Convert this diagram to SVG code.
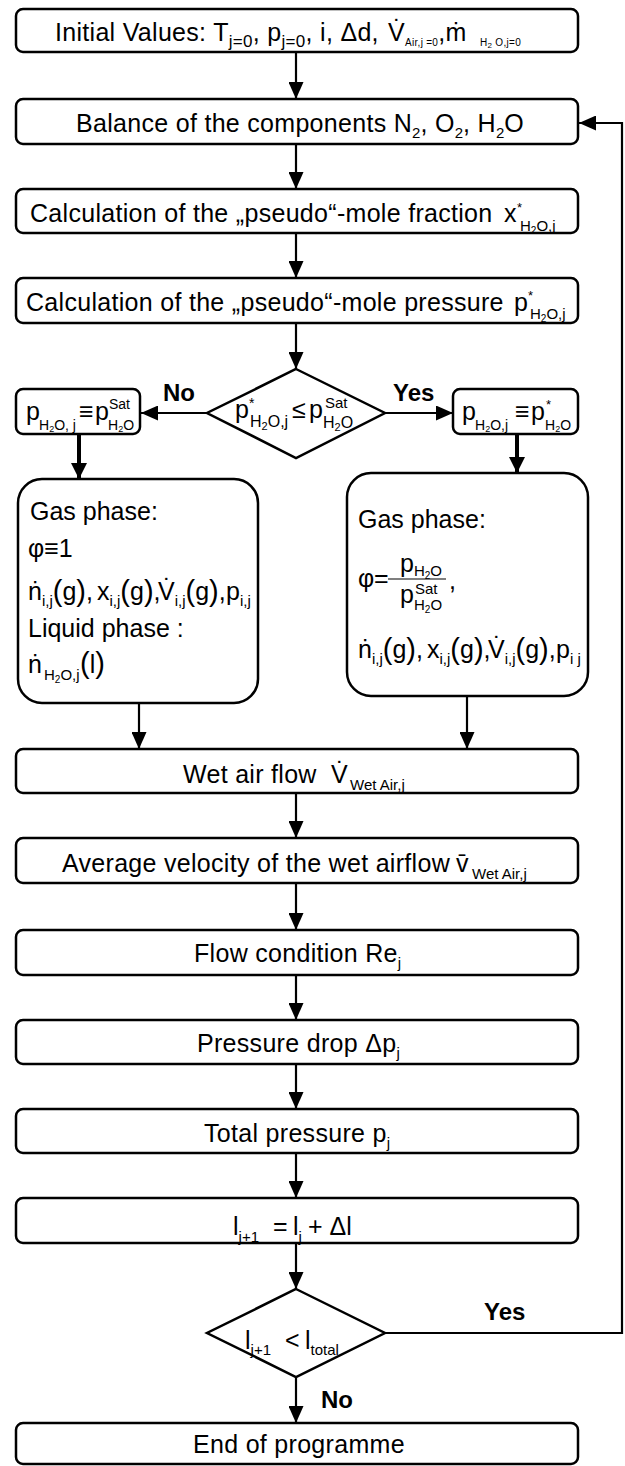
<svg xmlns="http://www.w3.org/2000/svg" width="625" height="1466" viewBox="0 0 625 1466">
<style>
.box{fill:#fff;stroke:#000;stroke-width:2.5}
.t{font-family:"Liberation Sans",Arial,sans-serif;font-size:25px;fill:#000}
.m{letter-spacing:0.3px}
.s{font-size:15px;letter-spacing:0}
.s2{font-size:10px;letter-spacing:0}
.pr{font-size:29px}
.lbl{font-family:"Liberation Sans",Arial,sans-serif;font-size:24px;font-weight:bold;fill:#000}
.c{fill:none;stroke:#000;stroke-width:2.2}
.ck{fill:none;stroke:#000;stroke-width:4}
</style>
<defs>
<marker id="ah" markerUnits="userSpaceOnUse" markerWidth="17" markerHeight="15" refX="17" refY="7.5" orient="auto"><path d="M0,0 L17,7.5 L0,15 z" fill="#000"/></marker>
<marker id="ahk" markerUnits="userSpaceOnUse" markerWidth="16" markerHeight="16" refX="16" refY="8" orient="auto"><path d="M0,0 L16,8 L0,16 z" fill="#000"/></marker>
</defs>

<g id="connectors">
<line class="c" x1="296" y1="52" x2="296" y2="99" marker-end="url(#ah)"/>
<line class="c" x1="296" y1="144" x2="296" y2="189" marker-end="url(#ah)"/>
<line class="c" x1="296" y1="233" x2="296" y2="278" marker-end="url(#ah)"/>
<line class="c" x1="296" y1="323" x2="296" y2="369" marker-end="url(#ah)"/>
<line class="c" x1="207" y1="413" x2="141" y2="413" marker-end="url(#ah)"/>
<line class="c" x1="385" y1="413" x2="453" y2="413" marker-end="url(#ah)"/>
<line class="ck" x1="79" y1="434" x2="79" y2="479" marker-end="url(#ahk)"/>
<line class="ck" x1="517" y1="434" x2="517" y2="473" marker-end="url(#ahk)"/>
<line class="c" x1="139" y1="703" x2="139" y2="749" marker-end="url(#ah)"/>
<line class="c" x1="467" y1="696" x2="467" y2="749" marker-end="url(#ah)"/>
<line class="c" x1="296" y1="793" x2="296" y2="838" marker-end="url(#ah)"/>
<line class="c" x1="296" y1="883" x2="296" y2="930" marker-end="url(#ah)"/>
<line class="c" x1="296" y1="975" x2="296" y2="1020" marker-end="url(#ah)"/>
<line class="c" x1="296" y1="1064" x2="296" y2="1109" marker-end="url(#ah)"/>
<line class="c" x1="296" y1="1153" x2="296" y2="1198" marker-end="url(#ah)"/>
<line class="c" x1="296" y1="1243" x2="296" y2="1289" marker-end="url(#ah)"/>
<line class="c" x1="296" y1="1377" x2="296" y2="1423" marker-end="url(#ah)"/>
<polyline class="c" points="385,1333 622,1333 622,123 579,123" marker-end="url(#ah)"/>
<text class="lbl" x="163" y="401">No</text>
<text class="lbl" x="393" y="401">Yes</text>
<text class="lbl" x="484" y="1320">Yes</text>
<text class="lbl" x="321" y="1408">No</text>
</g>

<g id="n-initial">
<rect class="box" x="16" y="9" width="562" height="43" rx="7"/>
<text class="t m" x="55" y="41">Initial Values: T<tspan font-size="17" dy="6">j=0</tspan><tspan dy="-6">, p</tspan><tspan font-size="17" dy="6">j=0</tspan><tspan dy="-6">, i, Δd,</tspan><tspan x="388">V̇</tspan><tspan font-size="10" dy="5">Air,j =0</tspan><tspan dy="-5">,ṁ</tspan><tspan x="480" font-size="10" dy="5">H</tspan><tspan font-size="8" dy="2">2</tspan><tspan font-size="10" dy="-2"> O,j=0</tspan></text>
</g>

<g id="n-balance">
<rect class="box" x="16" y="99" width="562" height="45" rx="7"/>
<text class="t m" x="300" y="132" text-anchor="middle">Balance of the components N<tspan class="s" dy="6">2</tspan><tspan dy="-6">, O</tspan><tspan class="s" dy="6">2</tspan><tspan dy="-6">, H</tspan><tspan class="s" dy="6">2</tspan><tspan dy="-6">O</tspan></text>
</g>

<g id="n-xfrac">
<rect class="box" x="16" y="189" width="562" height="44" rx="7"/>
<text class="t m" x="30" y="222">Calculation of the „pseudo“-mole fraction<tspan x="504">x</tspan><tspan x="517" y="212" font-size="13">*</tspan><tspan x="520" y="231" class="s">H</tspan><tspan class="s2" dy="3">2</tspan><tspan class="s" dy="-3">O,j</tspan></text>
</g>

<g id="n-ppress">
<rect class="box" x="16" y="278" width="562" height="45" rx="7"/>
<text class="t m" x="26" y="311">Calculation of the „pseudo“-mole pressure<tspan x="514">p</tspan><tspan x="528" y="300" font-size="13">*</tspan><tspan x="530" y="319" class="s">H</tspan><tspan class="s2" dy="3">2</tspan><tspan class="s" dy="-3">O,j</tspan></text>
</g>

<g id="n-decision1">
<polygon class="box" points="296,369 385,413 296,458 207,413"/>
<text class="t" y="418"><tspan x="235">p</tspan><tspan x="249" y="408" font-size="14">*</tspan><tspan x="250" y="427" font-size="16">H</tspan><tspan font-size="11" dy="3">2</tspan><tspan font-size="16" dy="-3">O,j</tspan><tspan x="292" y="418">≤</tspan><tspan x="309">p</tspan><tspan x="325" y="408" class="s">Sat</tspan><tspan x="323" y="428" font-size="16">H</tspan><tspan font-size="11" dy="3">2</tspan><tspan font-size="16" dy="-3">O</tspan></text>
</g>

<g id="n-left-set">
<rect class="box" x="16" y="389" width="124" height="45" rx="7"/>
<text class="t" y="420" font-size="23"><tspan x="26">p</tspan><tspan x="39" y="430" font-size="14">H</tspan><tspan font-size="9" dy="2">2</tspan><tspan font-size="14" dy="-2">O, j</tspan><tspan x="79" y="420">≡</tspan><tspan x="95">p</tspan><tspan x="109" y="409" font-size="14">Sat</tspan><tspan x="108" y="430" font-size="14">H</tspan><tspan font-size="9" dy="2">2</tspan><tspan font-size="14" dy="-2">O</tspan></text>
</g>

<g id="n-right-set">
<rect class="box" x="453" y="389" width="125" height="45" rx="7"/>
<text class="t" y="420" font-size="23"><tspan x="462">p</tspan><tspan x="475" y="430" font-size="14">H</tspan><tspan font-size="9" dy="2">2</tspan><tspan font-size="14" dy="-2">O,j</tspan><tspan x="515" y="420">≡</tspan><tspan x="531">p</tspan><tspan x="546" y="409" font-size="13">*</tspan><tspan x="545" y="430" font-size="14">H</tspan><tspan font-size="9" dy="2">2</tspan><tspan font-size="14" dy="-2">O</tspan></text>
</g>

<g id="n-left-gas">
<rect class="box" x="18" y="479" width="240" height="224" rx="24"/>
<text class="t" x="30" y="520">Gas phase:</text>
<text class="t" x="28" y="557">φ≡1</text>
<text class="t" y="600"><tspan x="28">ṅ</tspan><tspan class="s" dy="6">i,j</tspan><tspan class="pr" dy="-5">(</tspan><tspan dy="-1">g</tspan><tspan class="pr" dy="1">)</tspan><tspan dy="-1">,</tspan><tspan x="97">x</tspan><tspan class="s" dy="6">i,j</tspan><tspan class="pr" dy="-5">(</tspan><tspan dy="-1">g</tspan><tspan class="pr" dy="1">)</tspan><tspan dy="-1">,</tspan><tspan x="158">V̇</tspan><tspan class="s" dy="6">i,j</tspan><tspan class="pr" dy="-5">(</tspan><tspan dy="-1">g</tspan><tspan class="pr" dy="1">)</tspan><tspan dy="-1">,</tspan><tspan x="226">p</tspan><tspan class="s" dy="6">i,j</tspan></text>
<text class="t" x="28" y="637">Liquid phase :</text>
<text class="t" y="673"><tspan x="28">ṅ</tspan><tspan x="44" y="680" class="s">H</tspan><tspan class="s2" dy="3">2</tspan><tspan class="s" dy="-3">O,j</tspan><tspan class="pr" x="80" y="673">(</tspan><tspan>l</tspan><tspan class="pr">)</tspan></text>
</g>

<g id="n-right-gas">
<rect class="box" x="347" y="473" width="241" height="223" rx="24"/>
<text class="t" x="358" y="528">Gas phase:</text>
<text class="t" y="587"><tspan x="358">φ</tspan><tspan x="374">=</tspan></text>
<text class="t" x="400" y="572">p<tspan class="s" dy="4">H</tspan><tspan class="s2" dy="3">2</tspan><tspan class="s" dy="-3">O</tspan></text>
<line x1="388" y1="579" x2="446" y2="579" stroke="#000" stroke-width="1.2"/>
<text class="t" y="603"><tspan x="400">p</tspan><tspan x="415" y="594" class="s">Sat</tspan><tspan x="414" y="610" class="s">H</tspan><tspan class="s2" dy="3">2</tspan><tspan class="s" dy="-3">O</tspan></text>
<text class="t" x="449" y="589">,</text>
<text class="t" y="658"><tspan x="358">ṅ</tspan><tspan class="s" dy="6">i,j</tspan><tspan class="pr" dy="-5">(</tspan><tspan dy="-1">g</tspan><tspan class="pr" dy="1">)</tspan><tspan dy="-1">,</tspan><tspan x="427">x</tspan><tspan class="s" dy="6">i,j</tspan><tspan class="pr" dy="-5">(</tspan><tspan dy="-1">g</tspan><tspan class="pr" dy="1">)</tspan><tspan dy="-1">,</tspan><tspan x="488">V̇</tspan><tspan class="s" dy="6">i,j</tspan><tspan class="pr" dy="-5">(</tspan><tspan dy="-1">g</tspan><tspan class="pr" dy="1">)</tspan><tspan dy="-1">,</tspan><tspan x="556">p</tspan><tspan class="s" dy="6">i j</tspan></text>
</g>

<g id="n-wetflow">
<rect class="box" x="16" y="749" width="562" height="44" rx="7"/>
<text class="t m" x="183" y="783">Wet air flow<tspan x="331">V̇</tspan><tspan x="350" y="790" class="s">Wet Air,j</tspan></text>
</g>

<g id="n-velocity">
<rect class="box" x="16" y="838" width="562" height="45" rx="7"/>
<text class="t m" x="62" y="872">Average velocity of the wet airflow<tspan x="456">v̄</tspan><tspan x="472" y="879" class="s">Wet Air,j</tspan></text>
</g>

<g id="n-flow">
<rect class="box" x="16" y="930" width="562" height="45" rx="7"/>
<text class="t m" x="194" y="962">Flow condition Re<tspan class="s" dy="6">j</tspan></text>
</g>

<g id="n-drop">
<rect class="box" x="16" y="1020" width="562" height="44" rx="7"/>
<text class="t m" x="197" y="1052">Pressure drop Δp<tspan class="s" dy="6">j</tspan></text>
</g>

<g id="n-total">
<rect class="box" x="16" y="1109" width="562" height="44" rx="7"/>
<text class="t m" x="204" y="1142">Total pressure p<tspan class="s" dy="6">j</tspan></text>
</g>

<g id="n-length">
<rect class="box" x="16" y="1198" width="562" height="45" rx="7"/>
<text class="t" y="1235"><tspan x="233">l</tspan><tspan class="s" dy="7">j+1</tspan><tspan x="273" dy="-7">=</tspan><tspan x="293">l</tspan><tspan class="s" dy="7">j</tspan><tspan x="308" dy="-7">+ Δl</tspan></text>
</g>

<g id="n-decision2">
<polygon class="box" points="296,1289 385,1333 296,1377 207,1333"/>
<text class="t" y="1349"><tspan x="245">l</tspan><tspan class="s" dy="6">j+1</tspan><tspan x="285" dy="-6">&lt;</tspan><tspan x="305">l</tspan><tspan class="s" dy="6">total</tspan></text>
</g>

<g id="n-end">
<rect class="box" x="16" y="1423" width="562" height="41" rx="7"/>
<text class="t m" x="193" y="1453">End of programme</text>
</g>
</svg>
